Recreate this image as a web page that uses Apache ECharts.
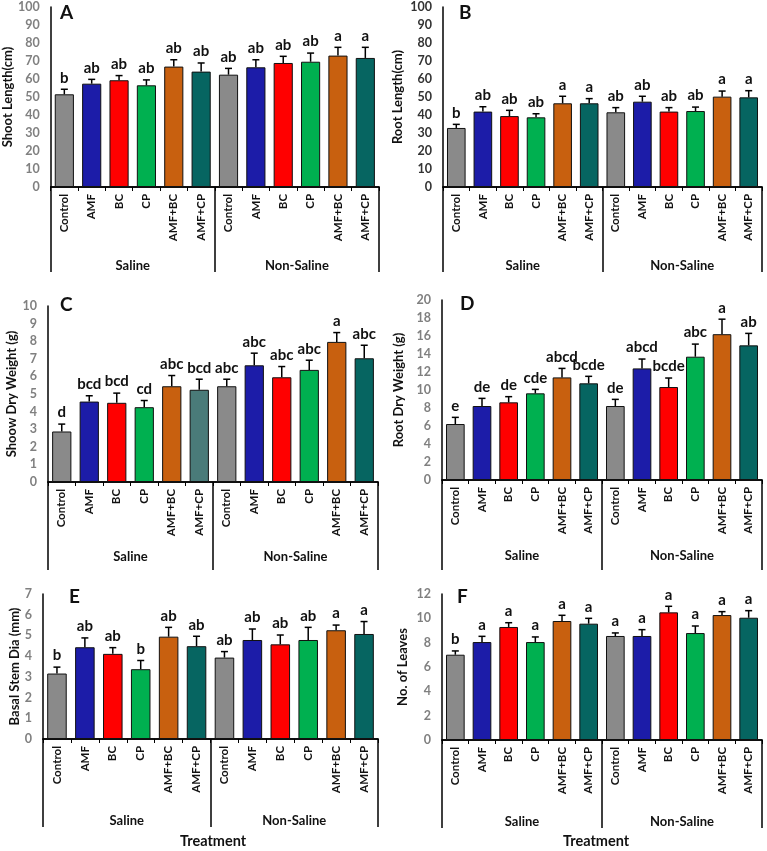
<!DOCTYPE html>
<html>
<head>
<meta charset="utf-8">
<script src="https://cdn.jsdelivr.net/npm/echarts@6/dist/echarts.min.js"></script>
<style>
  html, body { margin: 0; padding: 0; background: #fff; }
  #chart { width: 767px; height: 851px; }
</style>
</head>
<body>
<div id="chart"></div>
<script>
// categories and groups
const categories = ['Control', 'AMF', 'BC', 'CP', 'AMF+BC', 'AMF+CP',
                    'Control', 'AMF', 'BC', 'CP', 'AMF+BC', 'AMF+CP'];
const groups = ['Saline', 'Non-Saline'];

// A - shoot length
const shootLength = [51.5, 57.4, 59.3, 56.5, 66.9, 64.1, 62.4, 66.5, 68.9, 69.6, 73.0, 71.7];
const shootLengthErr = [2.8, 2.4, 2.6, 3.0, 3.8, 4.8, 3.5, 4.2, 3.7, 4.8, 4.6, 5.9];
const shootLengthSig = ['b', 'ab', 'ab', 'ab', 'ab', 'ab', 'ab', 'ab', 'ab', 'ab', 'a', 'a'];

// B - root length
const rootLength = [32.8, 41.9, 39.4, 38.7, 46.5, 46.5, 41.5, 47.4, 41.9, 42.2, 50.2, 49.8];
const rootLengthErr = [2.0, 2.7, 3.2, 2.0, 3.9, 2.6, 2.6, 3.0, 2.2, 2.2, 3.1, 3.7];
const rootLengthSig = ['b', 'ab', 'ab', 'ab', 'a', 'a', 'ab', 'ab', 'ab', 'ab', 'a', 'a'];

// C - shoot dry weight
const shootDry = [2.87, 4.57, 4.5, 4.25, 5.44, 5.24, 5.44, 6.63, 5.95, 6.37, 7.96, 7.03];
const shootDryErr = [0.42, 0.33, 0.55, 0.38, 0.61, 0.6, 0.4, 0.69, 0.61, 0.55, 0.53, 0.74];
const shootDrySig = ['d', 'bcd', 'bcd', 'cd', 'abc', 'bcd', 'abc', 'abc', 'abc', 'abc', 'a', 'abc'];

// D - root dry weight
const rootDry = [6.22, 8.22, 8.63, 9.63, 11.4, 10.74, 8.22, 12.4, 10.33, 13.7, 16.2, 14.96];
const rootDryErr = [0.74, 0.85, 0.63, 0.44, 1.0, 0.78, 0.74, 1.04, 1.0, 1.4, 1.67, 1.33];
const rootDrySig = ['e', 'de', 'de', 'cde', 'abcd', 'bcde', 'de', 'abcd', 'bcde', 'abc', 'a', 'ab'];

// E - basal stem diameter
const stemDia = [3.16, 4.43, 4.11, 3.37, 4.94, 4.48, 3.93, 4.78, 4.57, 4.78, 5.25, 5.07];
const stemDiaErr = [0.31, 0.45, 0.3, 0.42, 0.45, 0.48, 0.29, 0.53, 0.45, 0.61, 0.25, 0.6];
const stemDiaSig = ['b', 'ab', 'ab', 'b', 'ab', 'ab', 'ab', 'ab', 'ab', 'ab', 'a', 'a'];

// F - number of leaves
const leaves = [7.01, 8.05, 9.29, 8.05, 9.78, 9.56, 8.55, 8.55, 10.49, 8.79, 10.27, 10.05];
const leavesErr = [0.31, 0.47, 0.35, 0.42, 0.47, 0.44, 0.25, 0.52, 0.5, 0.58, 0.28, 0.58];
const leavesSig = ['b', 'a', 'a', 'a', 'a', 'a', 'a', 'a', 'a', 'a', 'a', 'a'];

const palette = ['#8a8a8a', '#1c1ca8', '#ff0000', '#00b050', '#c8600f', '#066561'];
const FONT = 'Lato';

const panels = [
    { letter: 'A', name: 'Shoot Length(cm)', values: shootLength, err: shootLengthErr, sig: shootLengthSig,
      max: 100, interval: 10, grid: { left: 49, top: 7, width: 330, height: 180 },
      nameGap: 26, bracket: 85, groupMargin: 72, letterPos: [67, 14], labelColor: '#808080' },
    { letter: 'B', name: 'Root Length(cm)', values: rootLength, err: rootLengthErr, sig: rootLengthSig,
      max: 100, interval: 10, grid: { left: 443, top: 7, width: 319, height: 180 },
      nameGap: 39, bracket: 85, groupMargin: 72, letterPos: [466, 14], labelColor: '#333' },
    { letter: 'C', name: 'Shoow Dry Weight (g)', values: shootDry, err: shootDryErr, sig: shootDrySig,
      max: 10, interval: 1, grid: { left: 48, top: 306, width: 330, height: 176 },
      nameGap: 27, bracket: 88, groupMargin: 68, letterPos: [67, 306], labelColor: '#808080',
      colorOverride: { 5: '#4a7b79' } },
    { letter: 'D', name: 'Root Dry Weight (g)', values: rootDry, err: rootDryErr, sig: rootDrySig,
      max: 20, interval: 2, grid: { left: 442, top: 300, width: 320, height: 180 },
      nameGap: 37, bracket: 90, groupMargin: 69, letterPos: [467, 305], labelColor: '#808080' },
    { letter: 'E', name: 'Basal Stem Dia (mm)', values: stemDia, err: stemDiaErr, sig: stemDiaSig,
      max: 7, interval: 1, grid: { left: 43, top: 594, width: 335, height: 145 },
      nameGap: 22, bracket: 88, groupMargin: 75, letterPos: [76, 598], labelColor: '#808080' },
    { letter: 'F', name: 'No. of Leaves', values: leaves, err: leavesErr, sig: leavesSig,
      max: 12, interval: 2, grid: { left: 442, top: 594, width: 320, height: 146 },
      nameGap: 33, bracket: 88, groupMargin: 75, letterPos: [464, 598], labelColor: '#808080' }
];

const chart = echarts.init(document.getElementById('chart'));

const grid = [], xAxis = [], yAxis = [], series = [], graphic = [];

panels.forEach((p, i) => {
    grid.push(p.grid);

    xAxis.push({
        type: 'category',
        gridIndex: i,
        data: categories,
        axisLine: { lineStyle: { color: '#000', width: 1.5 } },
        axisTick: { show: true, length: 4, lineStyle: { color: '#000' } },
        axisLabel: {
            rotate: 90, interval: 0, margin: 7,
            fontFamily: FONT, fontWeight: 'bold', fontSize: 11.5, color: '#111'
        }
    });
    // group brackets (Saline / Non-Saline)
    xAxis.push({
        type: 'category',
        gridIndex: i,
        position: 'bottom',
        data: groups,
        axisLine: { show: true, lineStyle: { color: '#000', width: 1.5 } },
        axisTick: { show: true, interval: 0, length: p.bracket, lineStyle: { color: '#000', width: 1.5 } },
        axisLabel: {
            margin: p.groupMargin, interval: 0,
            fontFamily: FONT, fontWeight: 'bold', fontSize: 13, color: '#111'
        }
    });

    yAxis.push({
        type: 'value',
        gridIndex: i,
        min: 0, max: p.max, interval: p.interval,
        name: p.name,
        nameLocation: 'middle',
        nameGap: p.nameGap,
        nameTextStyle: { fontFamily: FONT, fontWeight: 'bold', fontSize: 13, color: '#111' },
        axisLine: { show: true, lineStyle: { color: '#000', width: 1.5 } },
        axisTick: { show: false },
        splitLine: { show: false },
        axisLabel: { margin: 11, fontFamily: FONT, fontWeight: 'bold', fontSize: 12.5, color: p.labelColor }
    });

    const colors = palette.concat(palette).map((c, k) =>
        (p.colorOverride && p.colorOverride[k]) ? p.colorOverride[k] : c);

    series.push({
        type: 'bar',
        xAxisIndex: i * 2,
        yAxisIndex: i,
        data: p.values,
        barCategoryGap: '30%',
        itemStyle: {
            color: params => colors[params.dataIndex],
            borderColor: '#111',
            borderWidth: 1
        },
        silent: true
    });

    // error bars (upper only) with significance letters
    series.push({
        type: 'custom',
        xAxisIndex: i * 2,
        yAxisIndex: i,
        data: p.values.map((v, k) => [k, v, p.err[k]]),
        z: 5,
        renderItem: (params, api) => {
            const k = api.value(0);
            const v = api.value(1);
            const e = api.value(2);
            const base = api.coord([k, v]);
            const top = api.coord([k, v + e]);
            const cap = 3.5;
            return {
                type: 'group',
                children: [
                    { type: 'line', shape: { x1: base[0], y1: base[1], x2: top[0], y2: top[1] },
                      style: { stroke: '#000', lineWidth: 1.5 } },
                    { type: 'line', shape: { x1: top[0] - cap, y1: top[1], x2: top[0] + cap, y2: top[1] },
                      style: { stroke: '#000', lineWidth: 1.5 } },
                    { type: 'text', x: top[0], y: top[1] - 4,
                      style: { text: p.sig[params.dataIndex], textAlign: 'center', textVerticalAlign: 'bottom',
                               font: 'bold 15px ' + FONT, fill: '#111' } }
                ]
            };
        }
    });

    graphic.push({
        type: 'text', left: p.letterPos[0] - 7, top: p.letterPos[1] - 11,
        style: { text: p.letter, font: 'bold 19px ' + FONT, fill: '#111' }
    });
});

graphic.push({
    type: 'text', left: 180, top: 834,
    style: { text: 'Treatment', font: 'bold 14.5px ' + FONT, fill: '#111' }
});
graphic.push({
    type: 'text', left: 563, top: 834,
    style: { text: 'Treatment', font: 'bold 14.5px ' + FONT, fill: '#111' }
});

chart.setOption({
    animation: false,
    grid: grid,
    xAxis: xAxis,
    yAxis: yAxis,
    series: series,
    graphic: graphic
});
</script>
</body>
</html>
